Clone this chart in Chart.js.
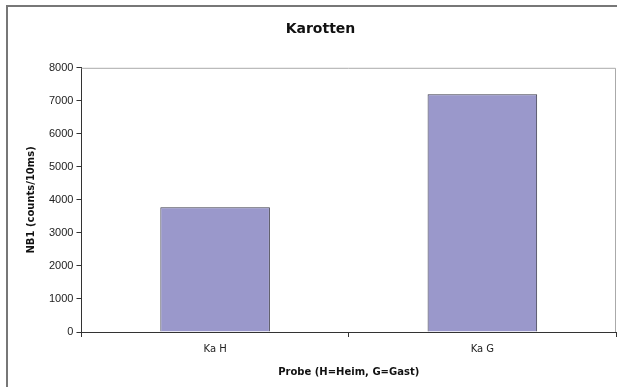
<!DOCTYPE html>
<html>
<head>
<meta charset="utf-8">
<script src="https://cdn.jsdelivr.net/npm/chart.js@4"></script>
<style>
  body { margin: 0; background: #fff; }
  #wrap { width: 617px; height: 387px; }
</style>
</head>
<body>
<div id="wrap"><canvas id="bar-chart" width="617" height="387"></canvas></div>
<script>
var labels = ['Ka H', 'Ka G'];
var values = [3780, 7200];
var yTicks = [0, 1000, 2000, 3000, 4000, 5000, 6000, 7000, 8000];

// frame around the chart and the plot area (Excel style)
var framePlugin = {
    id: 'frame',
    afterDraw: function (chart) {
        var ctx = chart.ctx;
        var a = chart.chartArea;
        ctx.save();
        ctx.strokeStyle = '#777';
        ctx.lineWidth = 2;
        ctx.beginPath();
        ctx.moveTo(7, 387);
        ctx.lineTo(7, 6);
        ctx.lineTo(617, 6);
        ctx.stroke();
        ctx.strokeStyle = '#aaa';
        ctx.lineWidth = 1;
        ctx.beginPath();
        ctx.moveTo(a.left, a.top + 0.5);
        ctx.lineTo(a.right - 0.5, a.top + 0.5);
        ctx.lineTo(a.right - 0.5, a.bottom);
        ctx.stroke();
        ctx.restore();
    }
};

new Chart(document.getElementById('bar-chart'), {
    type: 'bar',
    data: {
        labels: labels,
        datasets: [{
            label: 'NB1',
            data: values,
            backgroundColor: '#9a98cb',
            borderColor: '#3a3a4a',
            borderWidth: 1,
            barPercentage: 0.41,
            categoryPercentage: 1.0
        }]
    },
    options: {
        responsive: false,
        animation: false,
        layout: { padding: { top: 21, right: 1, left: 25, bottom: 9 } },
        plugins: {
            legend: { display: false },
            tooltip: { enabled: false },
            title: {
                display: true,
                text: 'Karotten',
                color: '#111',
                font: { family: 'DejaVu Sans', size: 14, weight: 'bold' },
                padding: { top: 0, bottom: 30 }
            }
        },
        scales: {
            x: {
                grid: { display: true, drawOnChartArea: false, offset: true, color: '#333', tickLength: 5 },
                border: { color: '#333', width: 1 },
                ticks: { color: '#222', font: { family: 'DejaVu Sans', size: 10 }, padding: 6 },
                title: {
                    display: true,
                    text: 'Probe (H=Heim, G=Gast)',
                    color: '#111',
                    font: { family: 'DejaVu Sans', size: 10, weight: 'bold' },
                    padding: { top: 5, bottom: 0 }
                }
            },
            y: {
                min: 0,
                max: 8000,
                afterBuildTicks: function (axis) {
                    axis.ticks = yTicks.map(function (v) { return { value: v }; });
                },
                grid: { display: true, drawOnChartArea: false, color: '#333', tickLength: 5 },
                border: { color: '#333', width: 1 },
                ticks: {
                    color: '#222',
                    font: { family: 'Liberation Sans', size: 11 },
                    padding: 3,
                    callback: function (v) { return String(v); }
                },
                title: {
                    display: true,
                    text: 'NB1 (counts/10ms)',
                    color: '#111',
                    font: { family: 'DejaVu Sans', size: 10, weight: 'bold' },
                    padding: { top: 0, bottom: 9 }
                }
            }
        }
    },
    plugins: [framePlugin]
});
</script>
</body>
</html>
